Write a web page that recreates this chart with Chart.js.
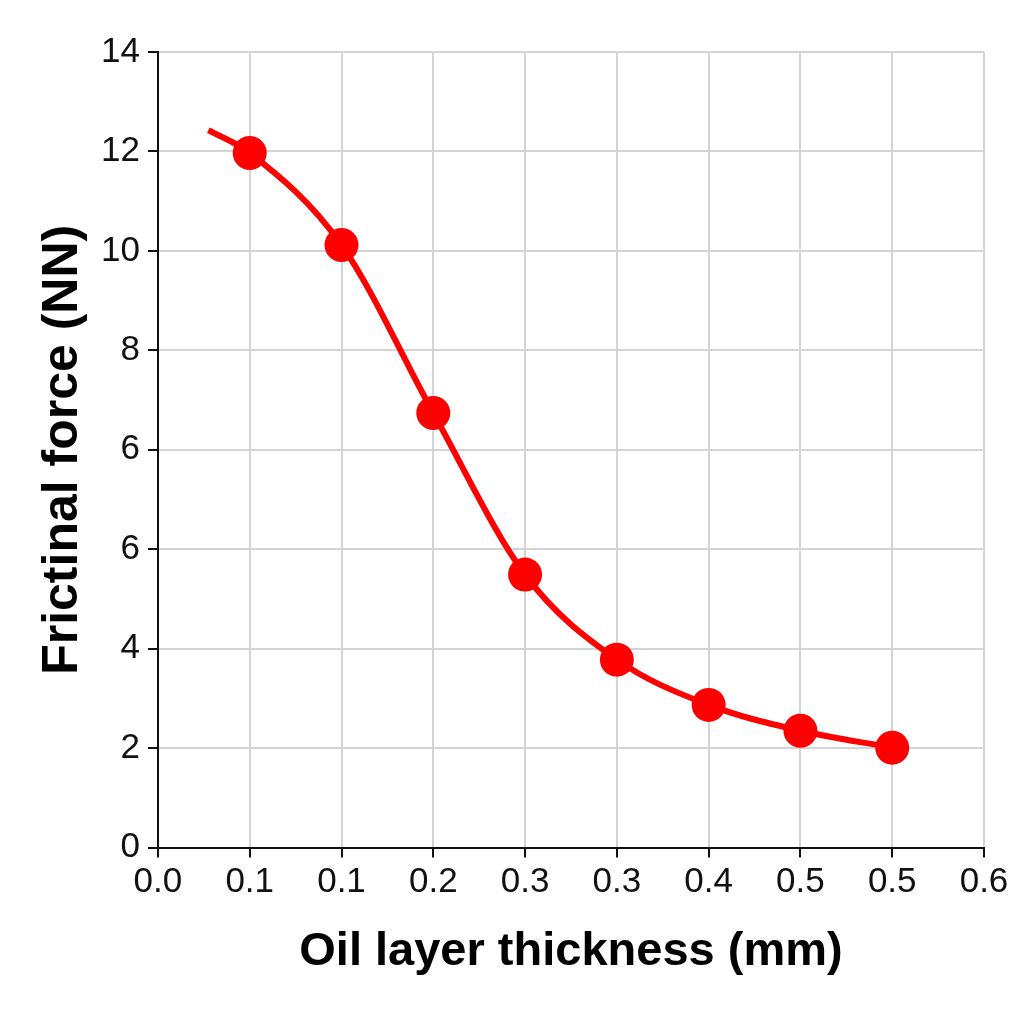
<!DOCTYPE html>
<html>
<head>
<meta charset="utf-8">
<script src="https://cdn.jsdelivr.net/npm/chart.js@4"></script>
<style>
  html, body { margin: 0; padding: 0; background: #fff; }
  #wrap { width: 1024px; height: 1024px; }
</style>
</head>
<body>
<div id="wrap"><canvas id="chart" width="1024" height="1024"></canvas></div>
<script>
// Etiquetas de ejes tal como aparecen en la figura
const xTickLabels = ["0.0", "0.1", "0.1", "0.2", "0.3", "0.3", "0.4", "0.5", "0.5", "0.6"];
const yTickLabels = ["0", "2", "4", "6", "6", "8", "10", "12", "14"];

// Posiciones sobre los ejes (x en pasos de tick, y en unidades de eje 0..16)
const xPos = [0.55, 1, 2, 3, 4, 5, 6, 7, 8];
const force = [14.43, 13.97, 12.12, 8.74, 5.49, 3.78, 2.87, 2.35, 2.01];
// el primer punto es solo el inicio de la curva, sin marcador
const markerRadius = [0, 17, 17, 17, 17, 17, 17, 17, 17];

const red = "#ff0000";
const gridGrey = "#d4d4d4";
const fontFamily = "'Liberation Sans', Arial, sans-serif";

const ctx = document.getElementById("chart");
new Chart(ctx, {
  type: "line",
  data: {
    datasets: [{
      label: "Frictional force",
      data: xPos.map((x, i) => ({ x, y: force[i] })),
      borderColor: red,
      backgroundColor: red,
      borderWidth: 6,
      pointRadius: markerRadius,
      pointHoverRadius: markerRadius,
      pointBorderWidth: 0,
      cubicInterpolationMode: "monotone",
      fill: false
    }]
  },
  options: {
    responsive: false,
    animation: false,
    layout: { padding: { left: 29, right: 40, top: 52, bottom: 40 } },
    plugins: { legend: { display: false }, tooltip: { enabled: false } },
    scales: {
      x: {
        type: "linear",
        min: 0, max: 9,
        ticks: {
          stepSize: 1,
          color: "#111",
          font: { family: fontFamily, size: 35 },
          padding: 4,
          maxRotation: 0,
          callback: v => xTickLabels[v] ?? ""
        },
        grid: { color: gridGrey, lineWidth: 2, tickLength: 10, tickColor: "#111", tickWidth: 2 },
        border: { color: "#111", width: 2 },
        title: {
          display: true,
          text: "Oil layer thickness (mm)",
          color: "#000",
          font: { family: fontFamily, size: 47, weight: "bold" },
          padding: { top: 16 }
        }
      },
      y: {
        min: 0, max: 16,
        ticks: {
          stepSize: 2,
          color: "#111",
          font: { family: fontFamily, size: 35 },
          padding: 8,
          callback: v => yTickLabels[v / 2] ?? ""
        },
        grid: { color: gridGrey, lineWidth: 2, tickLength: 10, tickColor: "#111", tickWidth: 2 },
        border: { color: "#111", width: 2 },
        title: {
          display: true,
          text: "Frictinal force (NN)",
          color: "#000",
          font: { family: fontFamily, size: 50, weight: "bold" },
          padding: { bottom: 0 }
        }
      }
    }
  }
});
</script>
</body>
</html>
